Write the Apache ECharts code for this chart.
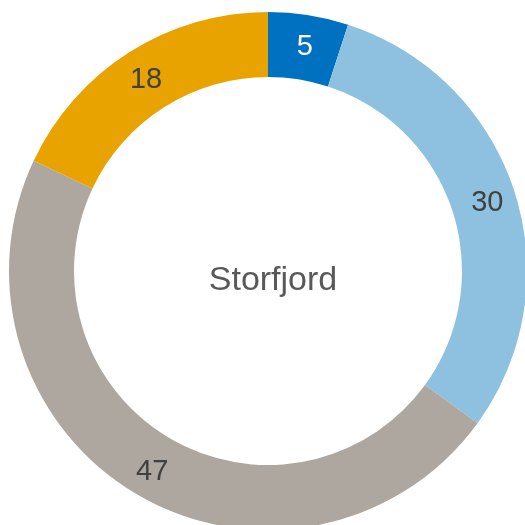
<!DOCTYPE html>
<html>
<head>
<meta charset="utf-8">
<script src="https://cdn.jsdelivr.net/npm/echarts@6/dist/echarts.min.js"></script>
<style>
  html, body { margin: 0; padding: 0; background: #fff; }
  #main { width: 525px; height: 525px; }
</style>
</head>
<body>
<div id="main"></div>
<script>
var categories = ['A', 'B', 'C', 'D'];
var values = [5, 30, 47, 18];
var colors = ['#0070C0', '#8DC1DF', '#ADA79F', '#E8A300'];
var labelColors = ['#ffffff', '#404040', '#404040', '#404040'];
var centerText = 'Storfjord';

var myChart = echarts.init(document.getElementById('main'));

var data = [];
for (var i = 0; i < values.length; i++) {
    data.push({
        name: categories[i],
        value: values[i],
        itemStyle: { color: colors[i] },
        label: { color: labelColors[i] }
    });
}

var option = {
    animation: false,
    title: {
        text: centerText,
        left: 268,
        top: 276,
        textAlign: 'center',
        textVerticalAlign: 'middle',
        textStyle: {
            fontFamily: 'Liberation Sans',
            fontSize: 34,
            fontWeight: 'normal',
            color: '#595959'
        }
    },
    series: [
        {
            type: 'pie',
            center: [268, 271],
            radius: [194, 259],
            startAngle: 90,
            clockwise: true,
            avoidLabelOverlap: false,
            data: data,
            label: {
                show: true,
                position: 'inside',
                formatter: '{c}',
                fontFamily: 'Liberation Sans',
                fontSize: 29,
                offset: [1, 3]
            },
            labelLine: { show: false },
            emphasis: { disabled: true }
        }
    ]
};

myChart.setOption(option);
</script>
</body>
</html>
